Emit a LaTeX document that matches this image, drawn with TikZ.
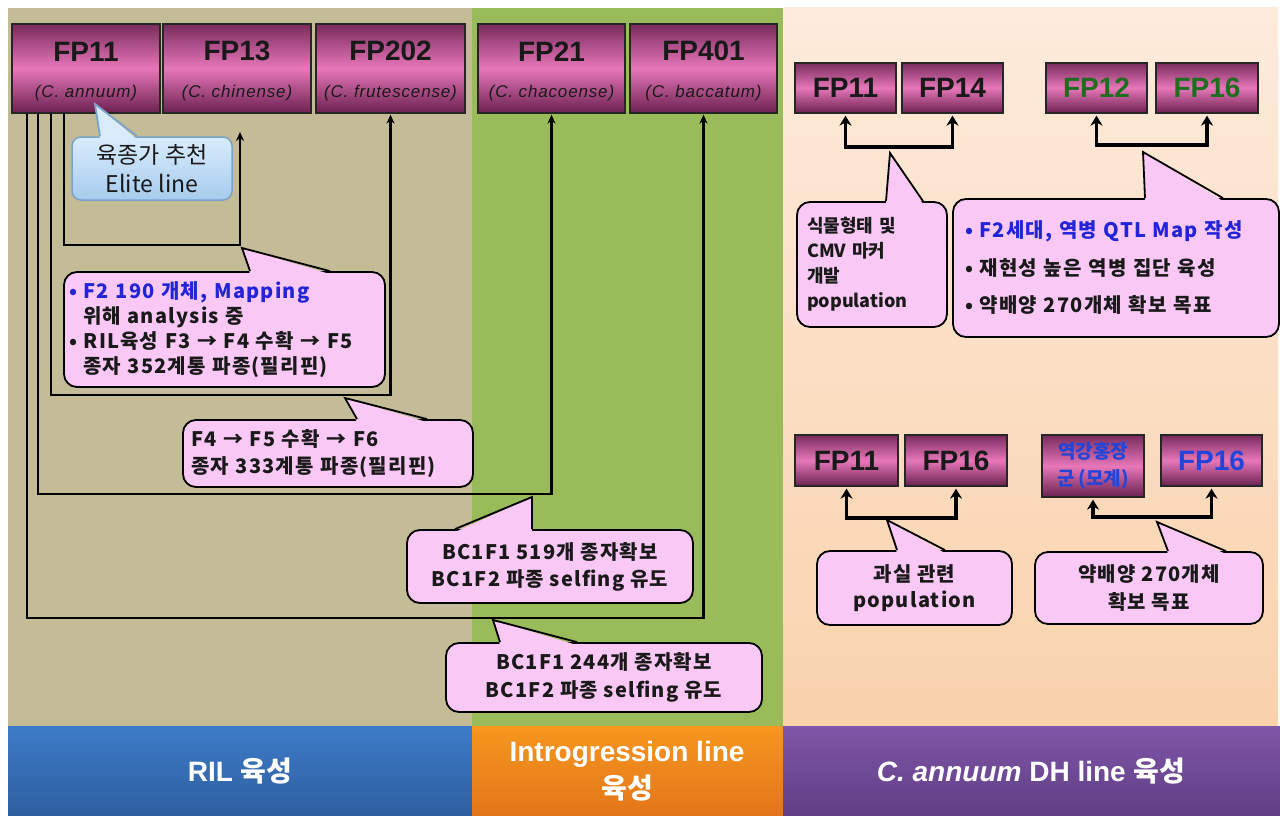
\documentclass[tikz,border=0pt]{standalone}
\usepackage{fontspec}
\setmainfont{Liberation Sans}
\newfontfamily\kr{Noto Sans CJK KR}
\newfontfamily\krs{Noto Sans CJK KR}[LetterSpace=6]
\usetikzlibrary{arrows.meta,calc}

\definecolor{tanbg}{HTML}{C4BC96}
\definecolor{greenbg}{HTML}{9ABB59}
\definecolor{peachtop}{HTML}{FDEBDC}
\definecolor{peachbot}{HTML}{F9D2AC}
\definecolor{fpdark}{HTML}{7A2B5E}
\definecolor{fpmid}{HTML}{E777B9}
\definecolor{fpbot}{HTML}{6B2150}
\definecolor{cpink}{HTML}{F9C8F5}
\definecolor{elitetop}{HTML}{D9ECFC}
\definecolor{elitebot}{HTML}{A6CBEE}
\definecolor{eliteline}{HTML}{7AA3CC}
\definecolor{txtblue}{HTML}{2323D8}
\definecolor{fpgreen}{HTML}{1F6E1F}
\definecolor{fpblue}{HTML}{2244D8}
\definecolor{bluetop}{HTML}{3D7CC8}
\definecolor{bluebot}{HTML}{2E5E9F}
\definecolor{orangetop}{HTML}{F7961F}
\definecolor{orangebot}{HTML}{E2761A}
\definecolor{purpletop}{HTML}{7E56A8}
\definecolor{purplebot}{HTML}{603E84}

\tikzset{
  fpbox/.style={draw=black!85, line width=1.3pt, top color=fpdark, bottom color=fpbot,
    middle color=fpmid, inner sep=0pt, align=center, text=black!90},
  parent/.style={fpbox, minimum width=148pt, minimum height=89pt},
  cross/.style={fpbox, minimum width=101pt, minimum height=50pt,
    font=\fontsize{28}{32}\selectfont\bfseries},
  link/.style={line width=2.2pt, black, line join=miter},
  linkarr/.style={link, -{Stealth[length=9pt,width=8pt]}},
  pair/.style={line width=3.6pt, black, line join=miter,
    {Stealth[length=10pt,width=12pt]}-{Stealth[length=10pt,width=12pt]}},
  pinkbox/.style={draw=black, line width=1.8pt, fill=cpink, rounded corners=13pt,
    inner sep=0pt, text=black!90},
  elitebox/.style={draw=eliteline, line width=1.5pt, top color=elitetop, bottom color=elitebot,
    rounded corners=9pt, inner sep=0pt, align=center, text=black!90},
  bandtxt/.style={text=white, font=\fontsize{28}{37}\selectfont\bfseries, align=center}
}

% pointer of a callout on its top edge: node, tip, base x left, base x right, fill, line colour
\newcommand\ptrtop[6]{%
  \coordinate (pa) at (#3,0);
  \coordinate (pb) at (#4,0);
  \fill[#5] ($(#1.north -| pa)+(0,3)$) -- (#2) -- ($(#1.north -| pb)+(0,3)$) -- cycle;
  \draw[#6, line width=1.8pt, line join=miter] (#1.north -| pa) -- (#2) -- (#1.north -| pb);
}
% name and species of a parent line
\newcommand\parentlabel[2]{\rule{0pt}{25pt}{\fontsize{28}{30}\selectfont\bfseries #1}\\[23pt]%
  {\fontsize{17}{20}\selectfont\itshape\addfontfeatures{LetterSpace=5}(#2)}}
\newcommand\ctf{\krs\bfseries}

\begin{document}
\begin{tikzpicture}[x=1pt,y=-1pt]
\useasboundingbox (0,0) rectangle (1280,816);
\fill[white] (0,0) rectangle (1280,816);

% panels
\fill[tanbg] (8,8) rectangle (472,726);
\fill[greenbg] (472,8) rectangle (783,726);
\fill[top color=peachtop, bottom color=peachbot] (783,8) rectangle (1278,726);

% bands at the bottom
\fill[top color=bluetop, bottom color=bluebot] (8,726) rectangle (472,816);
\fill[top color=orangetop, bottom color=orangebot] (472,726) rectangle (783,816);
\fill[top color=purpletop, bottom color=purplebot] (783,726) rectangle (1280,816);

% parent lines
\node[parent] (fp11) at (86,68.5) {\parentlabel{FP11}{C. annuum}};
\node[parent] (fp13) at (237,68.5) {\parentlabel{FP13}{C. chinense}};
\node[parent, minimum width=149pt] (fp202) at (390.5,68.5) {\parentlabel{FP202}{C. frutescense}};
\node[parent, minimum width=147pt] (fp21) at (551.5,68.5) {\parentlabel{FP21}{C. chacoense}};
\node[parent, minimum width=147pt] (fp401) at (703.5,68.5) {\parentlabel{FP401}{C. baccatum}};

% crosses from FP11
\coordinate (k13) at (240,245);
\coordinate (k202) at (390.5,395);
\coordinate (k21) at (551.5,494);
\coordinate (k401) at (703.5,618);
\draw[linkarr] ([xshift=-22pt]fp11.south) |- (k13) -- (240,132);
\draw[linkarr] ([xshift=-35pt]fp11.south) |- (k202) -- ([yshift=-1pt]fp202.south);
\draw[linkarr] ([xshift=-48pt]fp11.south) |- (k21) -- ([yshift=-1pt]fp21.south);
\draw[linkarr] ([xshift=-59pt]fp11.south) |- (k401) -- ([yshift=-1pt]fp401.south);

% callouts, left part
\node[elitebox, minimum width=160pt, minimum height=63pt,
  font=\kr\fontsize{23}{29}\selectfont] (elite) at (152,168.5) {육종가 추천\\Elite line};
\ptrtop{elite}{95,104}{100}{137}{elitetop}{eliteline}

\node[pinkbox, minimum width=321pt, minimum height=115pt, text width=311pt, align=left,
  font=\ctf\fontsize{20}{25}\selectfont] (c2) at (224.5,329.5)
  {{\color{txtblue}• F2 190 개체, Mapping}\\
   \hspace*{14pt}위해 analysis 중\\
   • RIL육성 F3 → F4 수확 → F5\\
   \hspace*{14pt}종자 352계통 파종(필리핀)};
\ptrtop{c2}{242,248}{250}{330}{cpink}{black}

\node[pinkbox, minimum width=290pt, minimum height=67pt, text width=274pt, align=left,
  font=\ctf\fontsize{20}{27}\selectfont] (c3) at (328,453.5)
  {F4 → F5 수확 → F6\\종자 333계통 파종(필리핀)};
\ptrtop{c3}{345,398}{357}{427}{cpink}{black}

\node[pinkbox, minimum width=286pt, minimum height=73pt, align=center,
  font=\ctf\fontsize{20}{27}\selectfont] (c4) at (550,566.5)
  {BC1F1 519개 종자확보\\BC1F2 파종 selfing 유도};
\ptrtop{c4}{532,497}{455}{532}{cpink}{black}

\node[pinkbox, minimum width=316pt, minimum height=69pt, align=center,
  font=\ctf\fontsize{20}{28}\selectfont] (c5) at (604,677.5)
  {BC1F1 244개 종자확보\\BC1F2 파종 selfing 유도};
\ptrtop{c5}{493,620}{500}{577}{cpink}{black}

% DH crosses, upper row
\node[cross] (r11) at (845.5,88) {FP11};
\node[cross] (r14) at (952.5,88) {FP14};
\node[cross, text=fpgreen] (r12) at (1096.5,88) {FP12};
\node[cross, minimum width=102pt, text=fpgreen] (r16) at (1207,88) {FP16};

\coordinate (jr1) at (900,147);
\coordinate (jr2) at (1150,145);
\draw[pair] ([yshift=-2pt]r11.south) |- (jr1) -| ([yshift=-2pt]r14.south);
\draw[pair] ([yshift=-2pt]r12.south) |- (jr2) -| ([yshift=-2pt]r16.south);

\node[pinkbox, minimum width=150pt, minimum height=125pt, text width=130pt, align=left,
  font=\kr\bfseries\fontsize{18}{25}\selectfont] (r1) at (872,264.5)
  {식물형태 및\\CMV 마커\\개발\\population};
\ptrtop{r1}{890,153}{886}{923}{cpink}{black}

\node[pinkbox, minimum width=326pt, minimum height=138pt, text width=302pt, align=left,
  font=\ctf\fontsize{20}{37.5}\selectfont] (r2) at (1116,268)
  {{\color{txtblue}• F2세대, 역병 QTL Map 작성}\\
   • 재현성 높은 역병 집단 육성\\
   • 약배양 270개체 확보 목표};
\ptrtop{r2}{1143,152}{1145}{1223}{cpink}{black}

% DH crosses, lower row
\node[cross, minimum width=103pt, minimum height=51pt] (s11) at (846.5,460.5) {FP11};
\node[cross, minimum width=102pt, minimum height=51pt] (s16) at (956,460.5) {FP16};
\node[fpbox, minimum width=102pt, minimum height=62pt, font=\kr\bfseries\fontsize{19}{27}\selectfont,
  text=fpblue] (syk) at (1093,466) {역강홍장\\군 (모계)};
\node[cross, minimum height=51pt, text=fpblue] (s16b) at (1211.5,460.5) {FP16};

\coordinate (js1) at (900,518);
\coordinate (js2) at (1150,517);
\draw[pair] ([yshift=-2pt]s11.south) |- (js1) -| ([yshift=-2pt]s16.south);
\draw[pair] ([yshift=-2pt]syk.south) |- (js2) -| ([yshift=-2pt]s16b.south);

\node[pinkbox, minimum width=195pt, minimum height=74pt, align=center,
  font=\ctf\fontsize{20}{26}\selectfont] (s1) at (914.5,588)
  {과실 관련\\population};
\ptrtop{s1}{887,520}{897}{945}{cpink}{black}

\node[pinkbox, minimum width=228pt, minimum height=72pt, align=center,
  font=\ctf\fontsize{20}{28}\selectfont] (s2) at (1149,588)
  {약배양 270개체\\확보 목표};
\ptrtop{s2}{1157,522}{1168}{1226}{cpink}{black}

% band titles
\node[bandtxt] (tRIL) at (240,771) {RIL {\kr 육성}};
\node[bandtxt] (tIL) at (627,771) {Introgression line\\{\kr 육성}};
\node[bandtxt] (tDH) at (1031,771) {{\itshape C. annuum} DH line {\kr 육성}};
\end{tikzpicture}
\end{document}
